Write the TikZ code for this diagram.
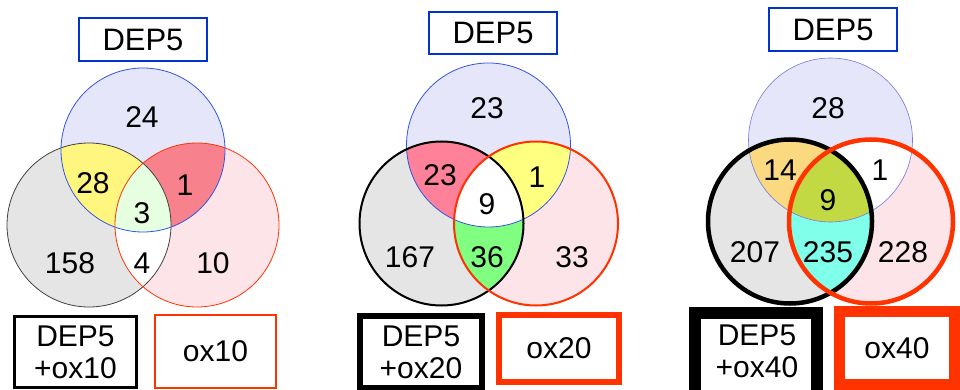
\documentclass[tikz,border=0pt]{standalone}
\usepackage{fontspec}
\setmainfont{Liberation Sans}
\definecolor{bluefill}{HTML}{E6E6FA}
\definecolor{grayfill}{HTML}{E5E5E5}
\definecolor{pinkfill}{HTML}{FDE4E8}
\definecolor{bluedge}{HTML}{3355DD}
\definecolor{bluelite}{HTML}{7777DD}
\definecolor{boxblue}{HTML}{0033CC}
\definecolor{ored}{HTML}{FF3300}
\definecolor{yelA}{HTML}{FFF680}
\definecolor{redA}{HTML}{F8818E}
\definecolor{grnA}{HTML}{E5FFE0}
\definecolor{roseB}{HTML}{FF8099}
\definecolor{yelB}{HTML}{FFFF80}
\definecolor{grnB}{HTML}{80FF80}
\definecolor{orC}{HTML}{FAD981}
\definecolor{olC}{HTML}{C2D944}
\definecolor{aqC}{HTML}{80FFEA}
\tikzset{
  num/.style={font=\fontsize{30}{32}\selectfont, inner sep=0pt},
  lbl/.style={font=\fontsize{30}{32}\selectfont, align=center, inner sep=0pt, fill=white},
  topbox/.style={draw=boxblue, line width=2.2pt, fill=white, font=\fontsize{31}{32}\selectfont, inner sep=0pt},
}
\newcommand{\R}{82pt}
\begin{document}
\begin{tikzpicture}[x=1pt,y=-1pt]
\useasboundingbox (0,0) rectangle (960,390);
% ---------------- Panel 1 ----------------
\coordinate (T1) at (143,150);
\coordinate (L1) at (89,225);
\coordinate (R1) at (197,225);
\fill[bluefill] (T1) circle[radius=\R];
\fill[grayfill] (L1) circle[radius=\R];
\fill[pinkfill] (R1) circle[radius=\R];
\begin{scope}\clip (T1) circle[radius=\R]; \fill[yelA] (L1) circle[radius=\R];\end{scope}
\begin{scope}\clip (T1) circle[radius=\R]; \fill[redA] (R1) circle[radius=\R];\end{scope}
\begin{scope}\clip (L1) circle[radius=\R]; \fill[white] (R1) circle[radius=\R];\end{scope}
\begin{scope}\clip (T1) circle[radius=\R]; \clip (L1) circle[radius=\R]; \fill[grnA] (R1) circle[radius=\R];\end{scope}
\draw[black!75, line width=0.8pt] (L1) circle[radius=\R];
\draw[ored, line width=0.8pt] (R1) circle[radius=\R];
\draw[bluedge, line width=0.8pt] (T1) circle[radius=\R];
\node[num] (n1a) at (142,117) {24};
\node[num] (n1b) at (93,183) {28};
\node[num] (n1c) at (185,185) {1};
\node[num] (n1d) at (142,213) {3};
\node[num] (n1e) at (70,263) {158};
\node[num] (n1f) at (142,263) {4};
\node[num] (n1g) at (213,263) {10};
\node[topbox, minimum width=127.8pt, minimum height=42.8pt] (d1) at (143,39.5) {DEP5};
\node[lbl, draw=black, line width=3pt, minimum width=122pt, minimum height=71pt] (b1) at (75.5,352) {DEP5\\+ox10};
\node[lbl, draw=ored, line width=2pt, minimum width=121pt, minimum height=73pt] (r1) at (215.5,351.5) {ox10};
% ---------------- Panel 2 ----------------
\coordinate (T2) at (488.5,145);
\coordinate (L2) at (441.5,223.5);
\coordinate (R2) at (536,223.5);
\fill[bluefill] (T2) circle[radius=\R];
\fill[grayfill] (L2) circle[radius=\R];
\fill[pinkfill] (R2) circle[radius=\R];
\begin{scope}\clip (T2) circle[radius=\R]; \fill[roseB] (L2) circle[radius=\R];\end{scope}
\begin{scope}\clip (T2) circle[radius=\R]; \fill[yelB] (R2) circle[radius=\R];\end{scope}
\begin{scope}\clip (L2) circle[radius=\R]; \fill[grnB] (R2) circle[radius=\R];\end{scope}
\begin{scope}\clip (T2) circle[radius=\R]; \clip (L2) circle[radius=\R]; \fill[white] (R2) circle[radius=\R];\end{scope}
\draw[bluedge, line width=0.8pt] (T2) circle[radius=\R];
\draw[black, line width=2pt] (L2) circle[radius=\R];
\draw[ored, line width=2pt] (R2) circle[radius=\R];
\node[num] (n2a) at (487,108) {23};
\node[num] (n2b) at (440,175) {23};
\node[num] (n2c) at (537,177) {1};
\node[num] (n2d) at (487,204) {9};
\node[num] (n2e) at (410,257) {167};
\node[num] (n2f) at (487,257) {36};
\node[num] (n2g) at (572,257) {33};
\node[topbox, minimum width=127.8pt, minimum height=41.8pt] (d2) at (493,33) {DEP5};
\node[lbl, draw=black, line width=6pt, minimum width=122pt, minimum height=72pt] (b2) at (421,352) {DEP5\\+ox20};
\node[lbl, draw=ored, line width=6pt, minimum width=120pt, minimum height=67pt] (r2) at (559,348.5) {ox20};
% ---------------- Panel 3 ----------------
\coordinate (T3) at (830.5,140);
\coordinate (L3) at (790,221.5);
\coordinate (R3) at (871,221.5);
\fill[bluefill] (T3) circle[radius=\R];
\fill[grayfill] (L3) circle[radius=\R];
\fill[pinkfill] (R3) circle[radius=\R];
\begin{scope}\clip (T3) circle[radius=\R]; \fill[orC] (L3) circle[radius=\R];\end{scope}
\begin{scope}\clip (T3) circle[radius=\R]; \fill[white] (R3) circle[radius=\R];\end{scope}
\begin{scope}\clip (L3) circle[radius=\R]; \fill[aqC] (R3) circle[radius=\R];\end{scope}
\begin{scope}\clip (T3) circle[radius=\R]; \clip (L3) circle[radius=\R]; \fill[olC] (R3) circle[radius=\R];\end{scope}
\draw[bluelite, line width=0.6pt] (T3) circle[radius=\R];
\draw[black, line width=4.5pt] (L3) circle[radius=\R];
\draw[ored, line width=4.5pt] (R3) circle[radius=\R];
\node[num] (n3a) at (828,108) {28};
\node[num] (n3b) at (780,170) {14};
\node[num] (n3c) at (880,170) {1};
\node[num] (n3d) at (828,200) {9};
\node[num] (n3e) at (755,252) {207};
\node[num] (n3f) at (828,252) {235};
\node[num] (n3g) at (903,252) {228};
\node[topbox, minimum width=127.8pt, minimum height=42.8pt] (d3) at (833,29.5) {DEP5};
\node[lbl, draw=black, line width=12pt, minimum width=122pt, minimum height=90pt] (b3) at (756,358) {};
\node[lbl] (b3t) at (757,351) {DEP5\\+ox40};
\node[lbl, draw=ored, line width=11pt, minimum width=115pt, minimum height=73pt] (r3) at (897,348) {ox40};
\end{tikzpicture}
\end{document}
